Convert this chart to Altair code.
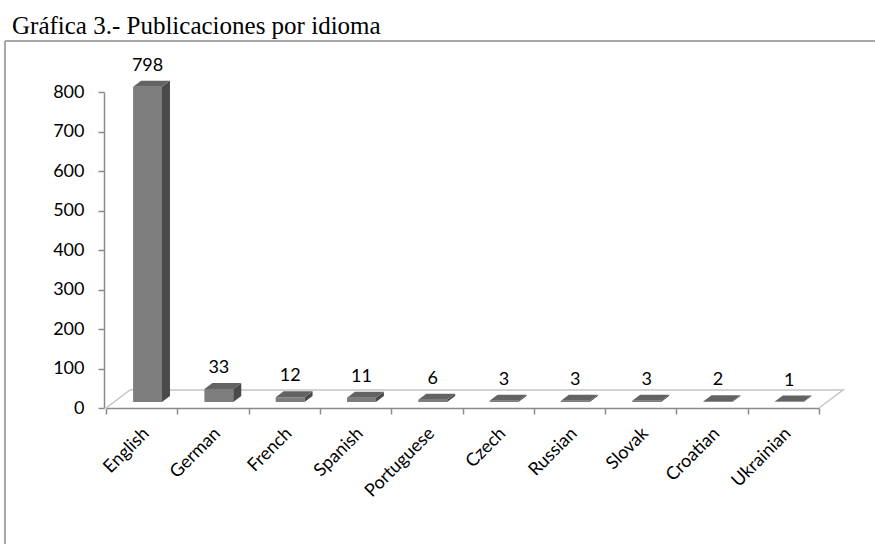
import altair as alt
import pandas as pd

# Publications per language
languages = ["English", "German", "French", "Spanish", "Portuguese",
             "Czech", "Russian", "Slovak", "Croatian", "Ukrainian"]
publications = [798, 33, 12, 11, 6, 3, 3, 3, 2, 1]
y_ticks = [0, 100, 200, 300, 400, 500, 600, 700, 800]

TITLE = "Gráfica 3.- Publicaciones por idioma"

# plot area and page geometry (pixels)
W, H = 713, 316
PAD = {"left": 106, "top": 92, "right": 875 - 106 - W, "bottom": 544 - 92 - H}
N = len(languages)
Y_MAX = 800
px_x = W / N          # pixels per category band
px_y = H / Y_MAX      # pixels per publication

# 3-D projection: floor depth of 24 x 18 px, bars occupy its middle third
step_x = 8 / px_x
step_y = 6 / px_y
BAR_L, BAR_R = 0.38, 0.785   # front face inside the band (after depth shift)

FRONT, SIDE, TOP = "#7d7d7d", "#4a4a4a", "#636363"
AXIS_C, FLOOR_C, FRAME_C = "#8a8a8a", "#c4c4c4", "#a8a8a8"
SANS = "Lato"
FS = 18

rows, side_rows, top_rows = [], [], []
for i, (lang, v) in enumerate(zip(languages, publications)):
    left, right = i + BAR_L, i + BAR_R
    base, top = step_y, step_y + v
    rows.append(dict(lang=lang, value=v, L=left, R=right, base=base, top=top,
                     center=(left + right) / 2, mid=i + 0.5, zero=0))
    side_rows += [dict(lang=lang, x=right, y=top, y2=base),
                  dict(lang=lang, x=right + step_x, y=top + step_y, y2=base + step_y)]
    top_rows += [dict(lang=lang, y=top, x=left, x2=right),
                 dict(lang=lang, y=top + step_y, x=left + step_x, x2=right + step_x)]

bars = pd.DataFrame(rows)
sides = pd.DataFrame(side_rows)
tops = pd.DataFrame(top_rows)
single = pd.DataFrame({"t": [TITLE]})

# floor outline (back and side edges; the front edge is the x axis)
floor = pd.DataFrame({
    "x": [0, 3 * step_x, N + 3 * step_x, N],
    "y": [0, 3 * step_y, 3 * step_y, 0],
    "k": [0, 1, 2, 3],
})

xs = alt.Scale(domain=[0, N], nice=False, zero=False)
ys = alt.Scale(domain=[0, Y_MAX], nice=False, zero=False)

x_axis = alt.Axis(values=list(range(N + 1)), labels=False, title=None,
                  grid=False, tickSize=6, tickColor=AXIS_C, tickWidth=1.5,
                  domainColor=AXIS_C, domainWidth=1.5)
y_axis = alt.Axis(values=y_ticks, title=None, grid=False, offset=2,
                  tickSize=6, tickColor=AXIS_C, tickWidth=1.5,
                  domainColor=AXIS_C, domainWidth=1.5,
                  labelFont=SANS, labelFontSize=FS, labelColor="black",
                  labelPadding=14)


def X(field):
    return alt.X(field, scale=xs, axis=x_axis)


def Y(field):
    return alt.Y(field, scale=ys, axis=y_axis)


floor_layer = alt.Chart(floor).mark_line(color=FLOOR_C, strokeWidth=1.5).encode(
    x=X("x:Q"), y=Y("y:Q"), order="k:O",
)

front_layer = alt.Chart(bars).mark_rect(color=FRONT).encode(
    x=X("L:Q"), x2="R:Q", y=Y("base:Q"), y2="top:Q",
)

side_layer = alt.Chart(sides).mark_area(color=SIDE, orient="vertical").encode(
    x=X("x:Q"), y=Y("y:Q"), y2="y2:Q", detail="lang:N",
)

top_layer = alt.Chart(tops).mark_area(color=TOP, orient="horizontal").encode(
    y=Y("y:Q"), x=X("x:Q"), x2="x2:Q", detail="lang:N",
)

value_labels = alt.Chart(bars).mark_text(
    font=SANS, fontSize=FS, color="black", baseline="middle", yOffset=-21
).encode(x=X("center:Q"), y=Y("top:Q"), text="value:Q")

cat_labels = alt.Chart(bars).mark_text(
    font=SANS, fontSize=FS, color="black", angle=315, align="right",
    baseline="middle", xOffset=5, yOffset=23
).encode(x=X("mid:Q"), y=Y("zero:Q"), text="lang:N")

frame_left = alt.Chart(single).mark_rule(color=FRAME_C, strokeWidth=2).encode(
    x=alt.value(5 - PAD["left"]), y=alt.value(41 - PAD["top"]),
    y2=alt.value(544 - PAD["top"]),
)
frame_top = alt.Chart(single).mark_rule(color=FRAME_C, strokeWidth=2).encode(
    x=alt.value(5 - PAD["left"]), x2=alt.value(875 - PAD["left"]),
    y=alt.value(41 - PAD["top"]),
)

title = alt.Chart(single).mark_text(
    font="Liberation Serif", fontSize=25, fontWeight="normal", color="black",
    align="left", baseline="alphabetic"
).encode(x=alt.value(12 - PAD["left"]), y=alt.value(34 - PAD["top"]), text="t:N")

chart = alt.layer(
    floor_layer, front_layer, side_layer, top_layer,
    value_labels, cat_labels, frame_left, frame_top, title,
).properties(
    width=W, height=H,
    autosize=alt.AutoSizeParams(type="none"),
    padding=PAD,
    background="white",
).configure_view(stroke=None)

chart.save("out.html", embed_options={"renderer": "svg", "actions": False})
